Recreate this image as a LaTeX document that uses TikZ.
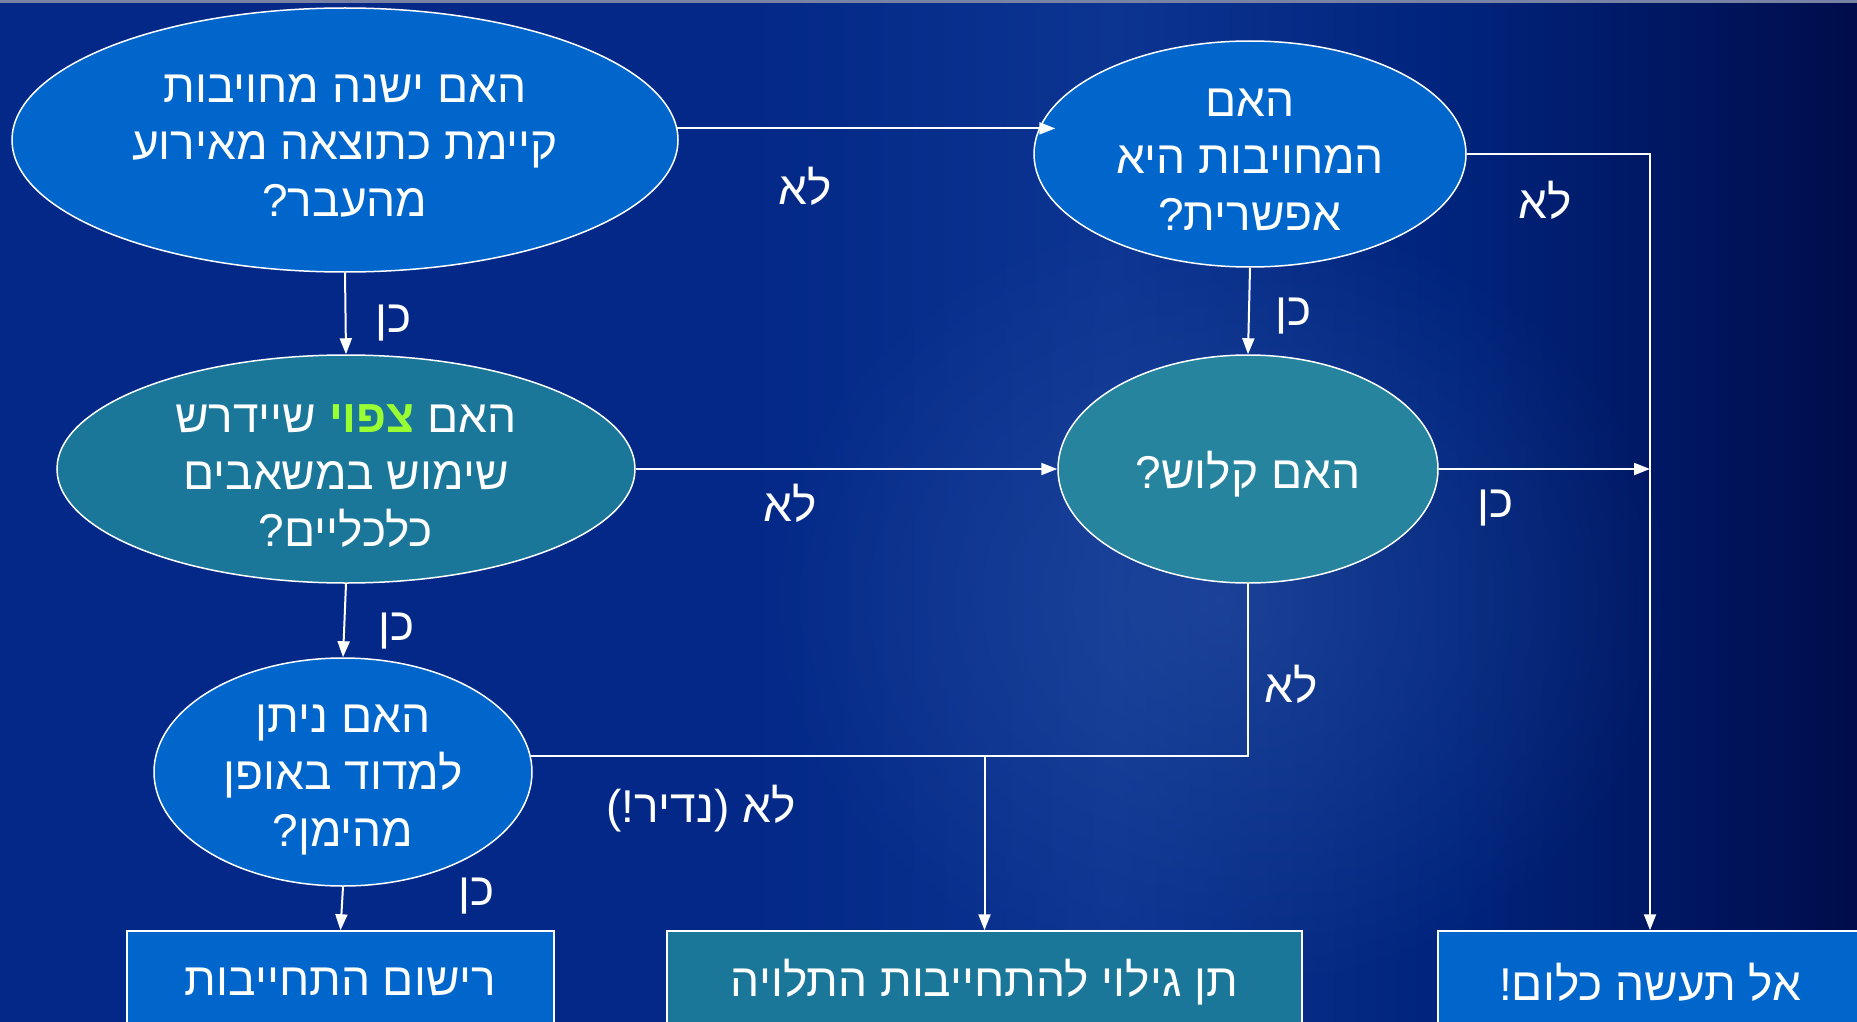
\documentclass[tikz,border=0pt]{standalone}
\usepackage{fontspec}
\setmainfont{Liberation Sans}
\newfontfamily\heb[Script=Hebrew]{Liberation Sans}
\newfontfamily\hebgreen[Script=Hebrew,Color=99FF33]{Liberation Sans}
\TeXXeTstate=1
\usetikzlibrary{shapes.geometric,arrows.meta,fadings}
\definecolor{cA}{RGB}{3,40,135}
\definecolor{cB}{RGB}{12,52,145}
\definecolor{cC}{RGB}{0,36,125}
\definecolor{cD}{RGB}{0,12,75}
\definecolor{glow}{RGB}{55,95,170}
\definecolor{topgray}{RGB}{120,130,165}
\definecolor{qblue}{RGB}{0,102,204}
\definecolor{qteal}{RGB}{27,119,153}
\definecolor{qteal2}{RGB}{38,132,158}
\pgfdeclarehorizontalshading{bgshade}{100bp}{color(0bp)=(cA); color(25bp)=(cA); color(45bp)=(cA); color(55bp)=(cB); color(64bp)=(cC); color(75bp)=(cD); color(100bp)=(cD)}
\tikzfading[name=glowfade, inner color=transparent!0, outer color=transparent!100]
\newcommand\HL[1]{\beginR#1\endR}
\newcommand\GreenWord[1]{{\hebgreen\bfseries\fontsize{46}{57}\selectfont #1}}
\tikzset{
  q/.style={ellipse, draw=white, line width=1.5pt, inner sep=0pt},
  qt/.style={text=white, align=center, inner sep=0pt, font=\heb\fontsize{46}{57}\selectfont},
  bx/.style={rectangle, draw=white, line width=1.5pt, inner sep=0pt, minimum height=94pt},
  lbl/.style={text=white, inner sep=0pt, font=\heb\fontsize{46}{57}\selectfont},
  con/.style={draw=white, line width=2pt},
  arr/.style={con, -{Triangle[length=16pt,width=12pt]}}
}
\begin{document}
\begin{tikzpicture}[x=1pt,y=-1pt]
\useasboundingbox (0,0) rectangle (1857,1022);
\shade[shading=bgshade] (0,0) rectangle (1857,1022);
\fill[glow, path fading=glowfade, opacity=0.4] (1220,600) ellipse [x radius=460, y radius=400];
\fill[topgray] (0,0) rectangle (1857,3);

\node[q, fill=qblue, minimum width=666pt, minimum height=264pt] (A) at (345,140) {};
\node[q, fill=qblue, minimum width=432pt, minimum height=226pt] (B) at (1250,154) {};
\node[q, fill=qteal, minimum width=578pt, minimum height=228pt] (C) at (346,469) {};
\node[q, fill=qteal2, minimum width=380pt, minimum height=228pt] (D) at (1248,469) {};
\node[q, fill=qblue, minimum width=378pt, minimum height=228pt] (E) at (343,772) {};

\node[qt] (At) at ([yshift=-6pt]A.center)
  {\HL{האם ישנה מחויבות}\\\HL{קיימת כתוצאה מאירוע}\\\HL{מהעבר?}};
\node[qt] (Bt) at ([yshift=-6pt]B.center)
  {\HL{האם}\\\HL{המחויבות היא}\\\HL{אפשרית?}};
\node[qt] (Ct) at ([yshift=-7pt]C.center)
  {\HL{האם \GreenWord{צפוי} שיידרש}\\\HL{שימוש במשאבים}\\\HL{כלכליים?}};
\node[qt] (Dt) at ([yshift=-5pt]D.center) {\HL{האם קלוש?}};
\node[qt] (Et) at ([yshift=-8pt]E.center)
  {\HL{האם ניתן}\\\HL{למדוד באופן}\\\HL{מהימן?}};

\node[bx, fill=qblue, minimum width=427pt] (R1) at (340.5,978) {};
\node[bx, fill=qteal, minimum width=635pt] (R2) at (984.5,978) {};
\node[bx, fill=qblue, minimum width=424pt] (R3) at (1650,978) {};
\node[qt] (R1t) at ([yshift=-4pt]R1.center) {\HL{רישום התחייבות}};
\node[qt] (R2t) at ([yshift=-4pt]R2.center) {\HL{תן גילוי להתחייבות התלויה}};
\node[qt] (R3t) at ([yshift=-4pt]R3.center) {\HL{אל תעשה כלום!}};

\coordinate (abEnd) at ([xshift=22pt]B.west |- A.2);
\draw[arr] (A.2) -- (abEnd);
\draw[arr] (A.south) -- (C.north);
\draw[arr] (B.east) -- (B.east -| R3.north) -- (R3.north);
\draw[arr] (B.south) -- (D.north);
\draw[arr] (C.east) -- (D.west);
\draw[arr] (D.east) -- (D.east -| R3.north);
\draw[arr] (C.south) -- (E.north);
\draw[con] (D.south) -- (D.south |- E.5) -- (E.5);
\draw[arr] (E.5 -| R2.north) -- (R2.north);
\draw[arr] (E.south) -- (R1.north);

\node[lbl] (l1) at (805,186) {\HL{לא}};
\node[lbl] (l2) at (394,323) {\HL{כן}};
\node[lbl] (l3) at (1545,200) {\HL{לא}};
\node[lbl] (l4) at (1294,316) {\HL{כן}};
\node[lbl] (l5) at (790,503) {\HL{לא}};
\node[lbl] (l6) at (1496,508) {\HL{כן}};
\node[lbl] (l7) at (397,631) {\HL{כן}};
\node[lbl] (l8) at (1291,684) {\HL{לא}};
\node[lbl] (l9) at (701,809) {\HL{לא (נדיר!)}};
\node[lbl] (l10) at (477,896) {\HL{כן}};
\end{tikzpicture}
\end{document}
